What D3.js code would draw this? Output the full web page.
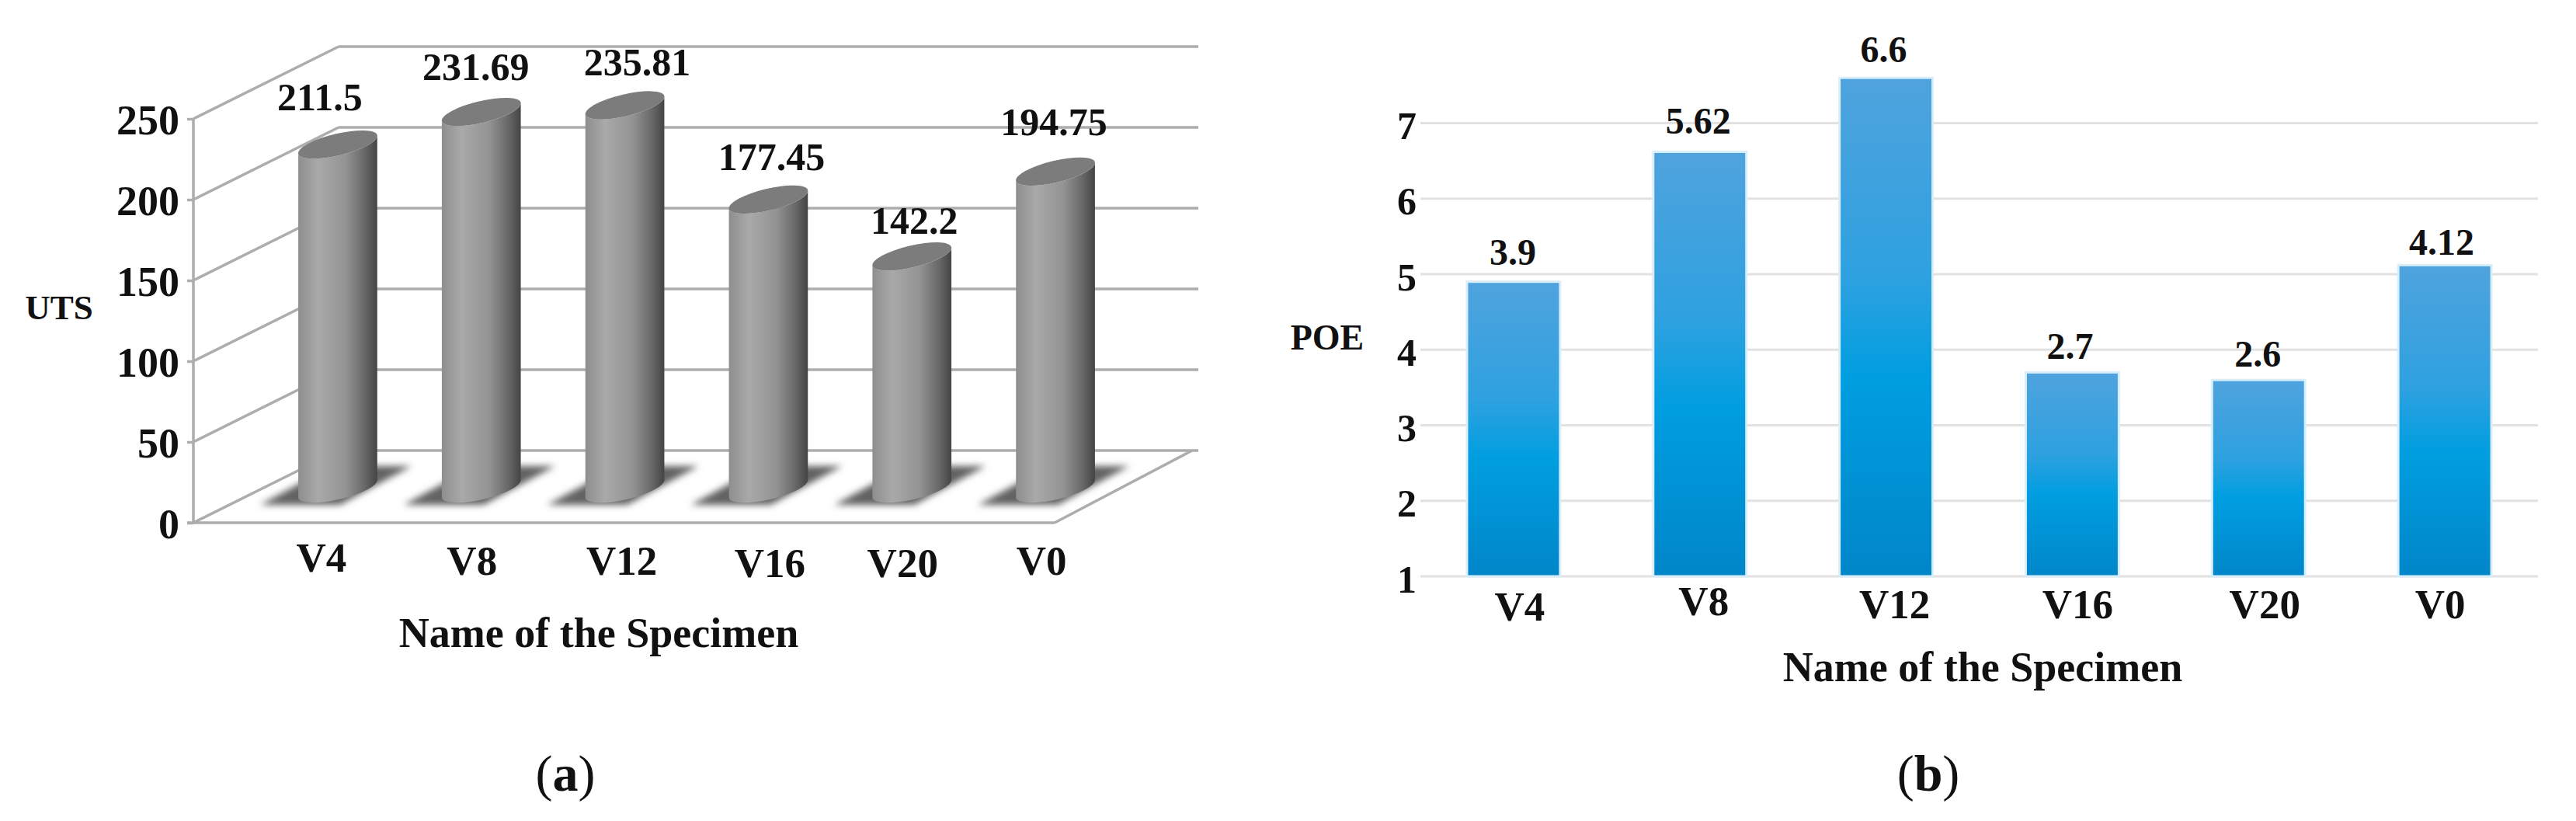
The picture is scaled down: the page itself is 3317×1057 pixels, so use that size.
<!DOCTYPE html>
<html>
<head>
<meta charset="utf-8">
<title>UTS and POE</title>
<script src="https://cdn.jsdelivr.net/npm/d3@7"></script>
<style>
  html, body { margin: 0; padding: 0; background: #fff; }
  svg { display: block; }
  text { font-family: "Liberation Serif", serif; font-weight: bold; fill: #111; }
  .domain { display: none; }
</style>
</head>
<body>
<div id="chart"></div>
<script>
// values
var specimens = ["V4", "V8", "V12", "V16", "V20", "V0"];
var utsValues = [211.5, 231.69, 235.81, 177.45, 142.2, 194.75];
var poeValues = [3.9, 5.62, 6.6, 2.7, 2.6, 4.12];
var utsTicks = [0, 50, 100, 150, 200, 250];
var poeTicks = [1, 2, 3, 4, 5, 6, 7];

// hand placed label nudges, the original labels do not sit regularly
var utsLabelNudge = [[-23, -91], [-7, -88], [16, -86], [4, -85], [3, -76], [-2, -94]];
var utsCatNudge = [[-21, 0], [-12, 4], [-4, 4], [2, 7], [-12, 7], [-18, 4]];
var poeLabelNudge = [[-1, -22], [-2, -23], [-3, -20], [-3, -17], [-1, -17], [-4, -13]];
var poeCatNudge = [[8, 0], [5, -7], [11, -3], [7, -3], [8, -3], [-6, -3]];

var svg = d3.select("#chart")
  .append("svg")
  .attr("width", 3317)
  .attr("height", 1057);

var defs = svg.append("defs");

var cylGrad = defs.append("linearGradient").attr("id", "cyl");
[[0, "#8e8e8e"], [0.25, "#a9a9a9"], [0.6, "#939393"], [0.85, "#666666"], [1, "#444444"]].forEach(function(s) {
  cylGrad.append("stop").attr("offset", s[0]).attr("stop-color", s[1]);
});

var barGrad = defs.append("linearGradient").attr("id", "bar")
  .attr("x1", 0).attr("y1", 0).attr("x2", 0).attr("y2", 1);
[[0, "#4fa3dd"], [0.4, "#2ea1e0"], [0.6, "#009ee0"], [1, "#0086c9"]].forEach(function(s) {
  barGrad.append("stop").attr("offset", s[0]).attr("stop-color", s[1]);
});

var blur = defs.append("filter").attr("id", "soft")
  .attr("x", "-20%").attr("y", "-30%").attr("width", "140%").attr("height", "160%");
blur.append("feGaussianBlur").attr("stdDeviation", 4);

// ---------- chart (a), 3D cylinders ----------
var depthX = 187, depthY = 93;

var xA = d3.scaleBand()
  .domain(specimens)
  .range([249, 1358])
  .paddingInner(0.45)
  .paddingOuter(0.225);

var yA = d3.scaleLinear().domain([0, 250]).range([673, 153]);

var wall = svg.append("g")
  .attr("fill", "none")
  .attr("stroke", "#adadad")
  .attr("stroke-width", 3.5);

// back wall grid lines, with the diagonals that run back from the front axis
wall.selectAll(".back").data(utsTicks).enter().append("line")
  .attr("x1", 249 + depthX)
  .attr("x2", 1543)
  .attr("y1", d => yA(d) - depthY)
  .attr("y2", d => yA(d) - depthY);

wall.selectAll(".diag").data(utsTicks).enter().append("line")
  .attr("x1", 249)
  .attr("x2", 249 + depthX)
  .attr("y1", d => yA(d))
  .attr("y2", d => yA(d) - depthY);

// floor edge on the right
wall.append("line")
  .attr("x1", 1358).attr("y1", yA(0))
  .attr("x2", 1358 + depthX - 10).attr("y2", yA(0) - depthY);

var axisA = svg.append("g")
  .attr("transform", "translate(249,0)")
  .call(d3.axisLeft(yA).tickValues(utsTicks).tickSize(8).tickPadding(10));
axisA.selectAll("line").attr("stroke", "#adadad").attr("stroke-width", 3.5);
axisA.selectAll("text")
  .attr("dy", 19)
  .style("font-size", "54px")
  .style("font-family", "Liberation Serif");

wall.append("line").attr("x1", 249).attr("x2", 249).attr("y1", yA(250)).attr("y2", yA(0));
wall.append("line").attr("x1", 241).attr("x2", 1358).attr("y1", yA(0)).attr("y2", yA(0));

function cylCenter(d) {
  return xA(d) + xA.bandwidth() / 2 + depthX / 2;
}

var tiltX = xA.bandwidth() / 2, tiltY = 12;
var rx = Math.sqrt(tiltX * tiltX + tiltY * tiltY), ry = 14;
var rot = -Math.atan2(tiltY, tiltX) * 180 / Math.PI;
var baseY = yA(0) - 44;

svg.append("g").selectAll("path").data(specimens).enter().append("path")
  .attr("fill", "#626262")
  .attr("filter", "url(#soft)")
  .attr("d", function(d) {
    var c = cylCenter(d);
    return "M" + (c - 100) + "," + (baseY + 21) +
      "L" + (c + 3) + "," + (baseY + 21) +
      "L" + (c + 95) + "," + (baseY - 29) +
      "L" + (c - 8) + "," + (baseY - 29) + "Z";
  });

var cyls = svg.append("g").selectAll("g")
  .data(specimens.map((d, i) => ({ name: d, value: utsValues[i] })))
  .enter().append("g");

cyls.append("path")
  .attr("fill", "url(#cyl)")
  .attr("d", function(d) {
    var c = cylCenter(d.name), top = yA(d.value) - 47;
    var arc = "A" + rx + "," + ry + " " + rot + " 0 ";
    return "M" + (c - tiltX) + "," + (top + tiltY) +
      "L" + (c - tiltX) + "," + (baseY + tiltY) +
      arc + "0 " + (c + tiltX) + "," + (baseY - tiltY) +
      "L" + (c + tiltX) + "," + (top - tiltY) +
      arc + "1 " + (c - tiltX) + "," + (top + tiltY) + "Z";
  });

cyls.append("ellipse")
  .attr("rx", rx)
  .attr("ry", ry)
  .attr("fill", "#7c7c7c")
  .attr("transform", d => `translate(${cylCenter(d.name)},${yA(d.value) - 47}) rotate(${rot})`);

cyls.append("text")
  .attr("x", (d, i) => cylCenter(d.name) + utsLabelNudge[i][0])
  .attr("y", (d, i) => yA(d.value) + utsLabelNudge[i][1])
  .attr("text-anchor", "middle")
  .style("font-size", "50px")
  .text(d => d.value);

svg.append("g").selectAll("text").data(specimens).enter().append("text")
  .attr("x", (d, i) => cylCenter(d) + utsCatNudge[i][0])
  .attr("y", (d, i) => 736 + utsCatNudge[i][1])
  .attr("text-anchor", "middle")
  .style("font-size", "53px")
  .text(d => d);

svg.append("text").attr("x", 771).attr("y", 833)
  .attr("text-anchor", "middle")
  .style("font-size", "54px")
  .text("Name of the Specimen");

svg.append("text").attr("x", 76).attr("y", 411)
  .attr("text-anchor", "middle")
  .style("font-size", "45px")
  .text("UTS");

// ---------- chart (b), flat bars ----------
var xB = d3.scaleBand()
  .domain(specimens)
  .range([1829, 3268])
  .paddingInner(0.5)
  .paddingOuter(0.25);

var yB = d3.scaleLinear().domain([1, 7]).range([742, 158.5]);

var gridB = svg.append("g")
  .attr("stroke", "#e2e2e2")
  .attr("stroke-width", 3);
gridB.selectAll("line").data(poeTicks).enter().append("line")
  .attr("x1", 1829)
  .attr("x2", 3268)
  .attr("y1", d => yB(d))
  .attr("y2", d => yB(d));

var axisB = svg.append("g")
  .attr("transform", "translate(1824,0)")
  .call(d3.axisLeft(yB).tickValues(poeTicks).tickFormat(d3.format("d")).tickSize(0).tickPadding(0));
axisB.selectAll("text")
  .attr("dy", 20)
  .style("font-size", "50px")
  .style("font-family", "Liberation Serif");

// the bars stand one unit above their printed value on this axis, as in the original
var bars = svg.append("g").selectAll("g")
  .data(specimens.map((d, i) => ({ name: d, value: poeValues[i] })))
  .enter().append("g");

bars.append("rect")
  .attr("x", d => xB(d.name))
  .attr("y", d => yB(d.value + 1))
  .attr("width", xB.bandwidth())
  .attr("height", d => yB(1) - yB(d.value + 1))
  .attr("fill", "url(#bar)")
  .attr("stroke", "#d8eefa")
  .attr("stroke-width", 3);

bars.append("text")
  .attr("x", (d, i) => xB(d.name) + xB.bandwidth() / 2 + poeLabelNudge[i][0])
  .attr("y", (d, i) => yB(d.value + 1) + poeLabelNudge[i][1])
  .attr("text-anchor", "middle")
  .style("font-size", "48px")
  .text(d => d.value);

svg.append("g").selectAll("text").data(specimens).enter().append("text")
  .attr("x", (d, i) => xB(d) + xB.bandwidth() / 2 + poeCatNudge[i][0])
  .attr("y", (d, i) => 799 + poeCatNudge[i][1])
  .attr("text-anchor", "middle")
  .style("font-size", "53px")
  .text(d => d);

svg.append("text").attr("x", 2553).attr("y", 877)
  .attr("text-anchor", "middle")
  .style("font-size", "54px")
  .text("Name of the Specimen");

svg.append("text").attr("x", 1709).attr("y", 450)
  .attr("text-anchor", "middle")
  .style("font-size", "46px")
  .text("POE");

// ---------- panel captions ----------
[["a", 728], ["b", 2483]].forEach(function(p) {
  var t = svg.append("text").attr("x", p[1]).attr("y", 1018)
    .attr("text-anchor", "middle")
    .style("font-size", "66px")
    .style("font-weight", "normal");
  t.append("tspan").text("(");
  t.append("tspan").style("font-weight", "bold").text(p[0]);
  t.append("tspan").text(")");
});
</script>
</body>
</html>
